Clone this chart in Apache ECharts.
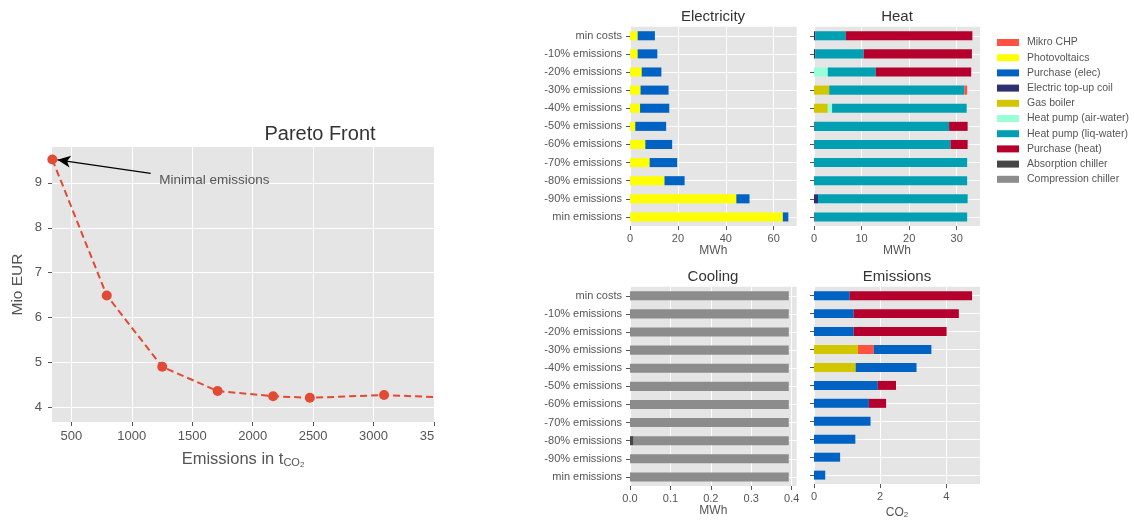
<!DOCTYPE html>
<html>
<head>
<meta charset="utf-8">
<script src="https://cdn.jsdelivr.net/npm/echarts@6/dist/echarts.min.js"></script>
<style>
html,body{margin:0;padding:0;background:#fff;}
#chart{width:1134px;height:520px;}
</style>
</head>
<body>
<div id="chart"></div>
<script>
// ---------- data ----------
const categories = ['min costs','-10% emissions','-20% emissions','-30% emissions','-40% emissions','-50% emissions','-60% emissions','-70% emissions','-80% emissions','-90% emissions','min emissions'];

const paretoX = [343, 793, 1252, 1710, 2169, 2473, 3087, 3560];
const paretoY = [9.52, 6.49, 4.90, 4.36, 4.245, 4.21, 4.27, 4.22];
const paretoXTicks = [500, 1000, 1500, 2000, 2500, 3000, 3500];
const paretoYTicks = [4, 5, 6, 7, 8, 9];

const elecPV       = [3.2, 3.2, 4.9, 4.4, 4.2, 2.2, 6.4, 8.2, 14.4, 44.4, 63.8];
const elecPurchase = [7.2, 8.2, 8.2, 11.7, 12.2, 12.9, 11.2, 11.5, 8.4, 5.5, 2.3];

const heatTopUp     = [0.3, 0.3, 0, 0, 0, 0.15, 0.15, 0, 0, 0.85, 0.15];
const heatGasBoiler = [0, 0, 0, 3.2, 2.9, 0, 0, 0, 0, 0, 0];
const heatAirWater  = [0, 0, 2.9, 0, 0.9, 0, 0, 0, 0, 0, 0];
const heatLiqWater  = [6.4, 10.15, 10.1, 28.4, 28.3, 28.25, 28.55, 32.2, 32.2, 31.45, 32.05];
const heatPurchase  = [26.6, 22.75, 20.05, 0, 0, 3.9, 3.6, 0, 0, 0, 0];
const heatCHP       = [0, 0, 0, 0.6, 0, 0, 0, 0, 0, 0, 0];

const coolAbsorption  = [0, 0, 0, 0, 0, 0, 0, 0, 0.009, 0, 0];
const coolCompression = [0.3928, 0.3928, 0.3928, 0.3928, 0.3928, 0.3928, 0.3928, 0.3928, 0.3838, 0.3928, 0.3928];

const emGasBoiler    = [0, 0, 0, 1.33, 1.26, 0, 0, 0, 0, 0, 0];
const emCHP          = [0, 0, 0, 0.48, 0, 0, 0, 0, 0, 0, 0];
const emPurchaseElec = [1.08, 1.2, 1.2, 1.74, 1.84, 1.93, 1.66, 1.71, 1.25, 0.79, 0.34];
const emPurchaseHeat = [3.7, 3.18, 2.81, 0, 0, 0.55, 0.52, 0, 0, 0, 0];

const elecTicks = [0, 20, 40, 60];
const heatTicks = [0, 10, 20, 30];
const coolTicks = [0, 0.1, 0.2, 0.3, 0.4];
const emTicks   = [0, 2, 4];

const legendNames = ['Mikro CHP','Photovoltaics','Purchase (elec)','Electric top-up coil','Gas boiler','Heat pump (air-water)','Heat pump (liq-water)','Purchase (heat)','Absorption chiller','Compression chiller'];
const colors = {
  'Mikro CHP':'#FF5242',
  'Photovoltaics':'#FFFF00',
  'Purchase (elec)':'#0062C2',
  'Electric top-up coil':'#2E2F70',
  'Gas boiler':'#D2C600',
  'Heat pump (air-water)':'#99FFD6',
  'Heat pump (liq-water)':'#00A0B2',
  'Purchase (heat)':'#B5002E',
  'Absorption chiller':'#464646',
  'Compression chiller':'#8C8C8C'
};

// ---------- helpers ----------
const TXT = '#555555';
const FONT = 'Liberation Sans';

function barPanelY(gi, showLabels) {
  return {
    type: 'category', gridIndex: gi, data: categories, inverse: true,
    axisLine: {show: false},
    axisTick: {show: true, alignWithLabel: true, length: 4, lineStyle: {color: TXT}},
    axisLabel: {show: showLabels, fontSize: 11, color: TXT, margin: 8, fontFamily: FONT},
    splitLine: {show: true, alignWithLabel: true, lineStyle: {color: '#ffffff', width: 1}}
  };
}
function barPanelX(gi, max, ticks, name, fmt) {
  return {
    type: 'value', gridIndex: gi, min: 0, max: max,
    axisLine: {show: false},
    axisTick: {show: true, length: 4, lineStyle: {color: TXT}, customValues: ticks},
    axisLabel: {fontSize: 11, color: TXT, margin: 7, fontFamily: FONT, customValues: ticks,
      formatter: fmt || (v => String(v))},
    splitLine: {show: true, lineStyle: {color: '#ffffff', width: 1}},
    name: name, nameLocation: 'middle', nameGap: 18,
    nameTextStyle: {fontSize: 12, color: TXT, fontFamily: FONT,
      rich: {s: {fontSize: 8, lineHeight: 8, padding: [8,0,0,0], verticalAlign: 'bottom', color: TXT, fontFamily: FONT}}}
  };
}
function bars(name, data, gi, stack) {
  return {
    type: 'bar', name: name, data: data, xAxisIndex: gi, yAxisIndex: gi,
    stack: stack, barWidth: '50%', itemStyle: {color: colors[name]},
    emphasis: {disabled: true}, animation: false
  };
}

const gridStyle = {show: true, backgroundColor: '#E5E5E5', borderWidth: 0};

const option = {
  animation: false,
  textStyle: {fontFamily: FONT},
  title: [
    {text: 'Pareto Front', left: 320, top: 124, textAlign: 'center', padding: 0,
     textStyle: {fontSize: 20, fontWeight: 'normal', color: '#333', fontFamily: FONT}},
    {text: 'Electricity', left: 713, top: 9, textAlign: 'center', padding: 0,
     textStyle: {fontSize: 15, fontWeight: 'normal', color: '#333', fontFamily: FONT}},
    {text: 'Heat', left: 897, top: 9, textAlign: 'center', padding: 0,
     textStyle: {fontSize: 15, fontWeight: 'normal', color: '#333', fontFamily: FONT}},
    {text: 'Cooling', left: 713, top: 269, textAlign: 'center', padding: 0,
     textStyle: {fontSize: 15, fontWeight: 'normal', color: '#333', fontFamily: FONT}},
    {text: 'Emissions', left: 897, top: 269, textAlign: 'center', padding: 0,
     textStyle: {fontSize: 15, fontWeight: 'normal', color: '#333', fontFamily: FONT}}
  ],
  legend: {
    orient: 'vertical', left: 992, top: 31.5, data: legendNames,
    icon: 'rect', itemWidth: 22, itemHeight: 7, itemGap: 3.2,
    selectedMode: false,
    textStyle: {fontSize: 10.5, color: TXT, lineHeight: 12, padding: [0,0,0,3], fontFamily: FONT}
  },
  grid: [
    Object.assign({left: 52, top: 147, width: 382, height: 275}, gridStyle),
    Object.assign({left: 630, top: 26.7, width: 166.7, height: 199.3}, gridStyle),
    Object.assign({left: 814, top: 26.7, width: 166, height: 199.3}, gridStyle),
    Object.assign({left: 630, top: 286.7, width: 166.7, height: 199.3}, gridStyle),
    Object.assign({left: 814, top: 286.7, width: 166, height: 199.3}, gridStyle)
  ],
  xAxis: [
    {
      type: 'value', gridIndex: 0, min: 340, max: 3500,
      axisLine: {show: false},
      axisTick: {show: true, length: 4, lineStyle: {color: TXT}, customValues: paretoXTicks},
      axisLabel: {fontSize: 13, color: TXT, margin: 8, fontFamily: FONT, customValues: paretoXTicks,
        formatter: v => (v === 3500 ? '{c|35}' : String(v)),
        rich: {c: {fontSize: 13, color: TXT, padding: [0, 14, 0, 0], fontFamily: FONT}}},
      splitLine: {show: true, lineStyle: {color: '#ffffff', width: 1}},
      name: 'Emissions in t{s|CO}{s2|2}', nameLocation: 'middle', nameGap: 23,
      nameTextStyle: {fontSize: 16.5, color: TXT, lineHeight: 18, fontFamily: FONT,
        rich: {
          s: {fontSize: 11, lineHeight: 11, padding: [10,0,0,0], verticalAlign: 'bottom', color: TXT, fontFamily: FONT},
          s2: {fontSize: 8, lineHeight: 8, padding: [12,0,0,0], verticalAlign: 'bottom', color: TXT, fontFamily: FONT}
        }}
    },
    barPanelX(1, 69.6, elecTicks, 'MWh'),
    barPanelX(2, 34.9, heatTicks, 'MWh'),
    barPanelX(3, 0.4124, coolTicks, 'MWh', v => v.toFixed(1)),
    barPanelX(4, 5.02, emTicks, 'CO{s|2}')
  ],
  yAxis: [
    {
      type: 'value', gridIndex: 0, min: 3.67, max: 9.8,
      axisLine: {show: false},
      axisTick: {show: true, length: 4, lineStyle: {color: TXT}, customValues: paretoYTicks},
      axisLabel: {fontSize: 13, color: TXT, margin: 10, fontFamily: FONT, customValues: paretoYTicks},
      splitLine: {show: true, lineStyle: {color: '#ffffff', width: 1}},
      name: 'Mio EUR', nameLocation: 'middle', nameGap: 26,
      nameTextStyle: {fontSize: 15.5, color: TXT, fontFamily: FONT}
    },
    barPanelY(1, true),
    barPanelY(2, false),
    barPanelY(3, true),
    barPanelY(4, false)
  ],
  series: [
    {
      type: 'line', name: 'Pareto', xAxisIndex: 0, yAxisIndex: 0,
      data: paretoX.map((x, i) => [x, paretoY[i]]),
      symbol: 'circle', symbolSize: 10, clip: true,
      itemStyle: {color: '#E24A33'},
      lineStyle: {color: '#E24A33', width: 2, type: [7, 4]},
      emphasis: {disabled: true},
      markLine: {
        silent: true, symbol: ['none', 'arrow'], symbolSize: [9, 13],
        lineStyle: {color: '#000', width: 1.2, type: 'solid'},
        label: {show: false},
        data: [[{coord: [1156, 9.21]}, {coord: [385, 9.515]}]]
      },
      markPoint: {
        silent: true, symbol: 'circle', symbolSize: 0,
        label: {show: true, position: 'right', distance: 0, formatter: 'Minimal emissions',
          fontSize: 13.5, color: '#555', fontFamily: FONT},
        data: [{coord: [1227, 9.06]}]
      }
    },
    bars('Photovoltaics', elecPV, 1, 'elec'),
    bars('Purchase (elec)', elecPurchase, 1, 'elec'),
    bars('Electric top-up coil', heatTopUp, 2, 'heat'),
    bars('Gas boiler', heatGasBoiler, 2, 'heat'),
    bars('Heat pump (air-water)', heatAirWater, 2, 'heat'),
    bars('Heat pump (liq-water)', heatLiqWater, 2, 'heat'),
    bars('Purchase (heat)', heatPurchase, 2, 'heat'),
    bars('Mikro CHP', heatCHP, 2, 'heat'),
    bars('Absorption chiller', coolAbsorption, 3, 'cool'),
    bars('Compression chiller', coolCompression, 3, 'cool'),
    bars('Gas boiler', emGasBoiler, 4, 'em'),
    bars('Mikro CHP', emCHP, 4, 'em'),
    bars('Purchase (elec)', emPurchaseElec, 4, 'em'),
    bars('Purchase (heat)', emPurchaseHeat, 4, 'em')
  ]
};

const chart = echarts.init(document.getElementById('chart'), null, {renderer: 'canvas'});
chart.setOption(option);
</script>
</body>
</html>
